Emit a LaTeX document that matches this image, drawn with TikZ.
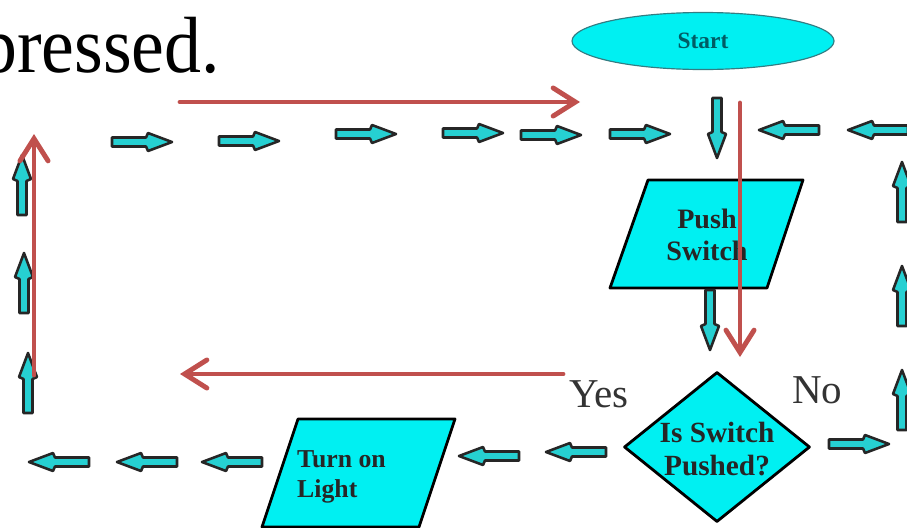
\documentclass[tikz,border=0pt]{standalone}
\usepackage{fontspec}
\setmainfont{Liberation Serif}
\usepackage{tikz}
\usetikzlibrary{arrows.meta, shapes.geometric}

\definecolor{shapecyan}{RGB}{0,240,242}
\definecolor{arrowcyan}{RGB}{38,208,210}
\definecolor{arrowred}{RGB}{192,80,77}
\definecolor{starttext}{RGB}{0,92,100}

\tikzset{
  redarrow/.style={draw=arrowred, line width=4.2pt, line cap=round,
    -{Straight Barb[length=19pt, width=24pt, line cap=round]}},
  boxline/.style={draw=black, line width=2.4pt, fill=shapecyan, line join=round},
  boxtext/.style={inner sep=0pt, text=black!85, align=center},
  answer/.style={anchor=base west, inner sep=0pt, text=black!80,
    font=\fontsize{35}{35}\selectfont},
  blockarrow/.pic={
    \draw[draw=black!85, line width=2.2pt, fill=arrowcyan, line join=round]
      (-30,-4.5) -- (4,-4.5) -- (6,-9) -- (30,0) -- (6,9) -- (4,4.5)
      -- (-30,4.5) -- cycle;
  }
}

\begin{document}
\begin{tikzpicture}[x=0.03cm, y=-0.03cm]
\useasboundingbox (0,0) rectangle (907,527);
\clip (0,0) rectangle (907,527);

\node[anchor=base west, inner sep=0pt, yscale=1.08, font=\fontsize{63}{63}\selectfont] (pressed) at (-20,72) {pressed.};

\node[ellipse, draw=starttext!80, line width=1pt, fill=shapecyan,
  minimum width=7.86cm, minimum height=1.71cm, inner sep=0pt,
  text=starttext, font=\bfseries\fontsize{20}{20}\selectfont] (start) at (703,41) {Start};

% input and output boxes
\draw[boxline] (648,180) -- (803,180) -- (767,288) -- (610,288) -- cycle;
\node[boxtext, font=\bfseries\fontsize{24}{27}\selectfont] (push) at (707,235) {Push\\Switch};
\draw[boxline] (298,419) -- (455,419) -- (419,527) -- (262,527) -- cycle;
\node[boxtext, align=left, anchor=west, font=\bfseries\fontsize{22}{25.5}\selectfont] (light) at (297,477) {Turn on\\Light};

\node[diamond, boxline, minimum width=5.58cm, minimum height=4.5cm, inner sep=0pt] (decide) at (717,447) {};
\node[boxtext, font=\bfseries\fontsize{25}{28}\selectfont] (decidetext) at (717,449) {Is Switch\\Pushed?};

\node[answer] (yes) at (569,407) {Yes};
\node[answer] (no) at (792,403) {No};

\foreach \x/\y in {142/142, 249/141, 366/134, 473/133, 551/135, 640/134, 859/444}
  \pic at (\x,\y) {blockarrow};
\foreach \x/\y in {789/130, 878/130, 576/452, 489/456, 232/462, 147/462, 59/462}
  \pic[rotate=180] at (\x,\y) {blockarrow};
\foreach \x/\y in {22/185, 24/283, 28/383, 902/192, 902/296, 902/400}
  \pic[rotate=90] at (\x,\y) {blockarrow};
\foreach \x/\y in {717/128, 710/320}
  \pic[rotate=-90] at (\x,\y) {blockarrow};

\coordinate (topL) at (180,102);
\coordinate (topR) at (580,102);
\coordinate (downT) at (740,103);
\coordinate (downB) at (740,357);
\coordinate (yesR) at (563,374);
\coordinate (yesL) at (180,374);
\coordinate (upB) at (34,375);
\coordinate (upT) at (34,134);
\draw[redarrow] (topL) -- (topR);
\draw[redarrow] (downT) -- (downB);
\draw[redarrow] (yesR) -- (yesL);
\draw[redarrow] (upB) -- (upT);
\end{tikzpicture}
\end{document}
